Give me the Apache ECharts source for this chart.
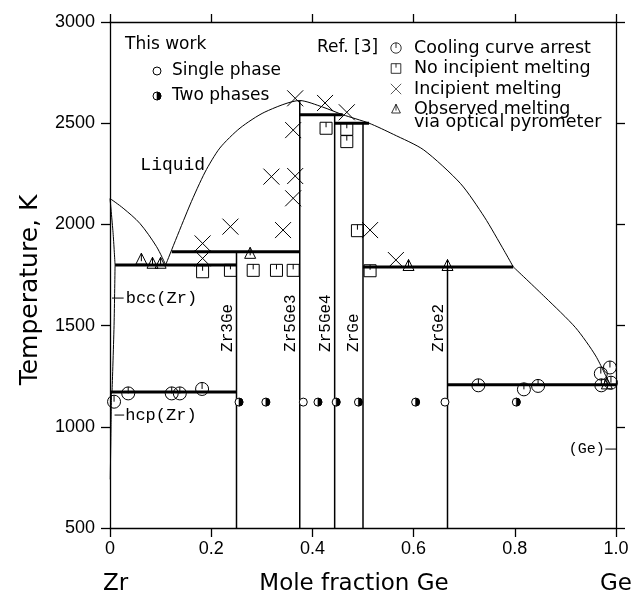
<!DOCTYPE html>
<html>
<head>
<meta charset="utf-8">
<script src="https://cdn.jsdelivr.net/npm/echarts@6/dist/echarts.min.js"></script>
<style>
  html, body { margin: 0; padding: 0; background: #fff; }
  #chart { width: 635px; height: 595px; }
</style>
</head>
<body>
<div id="chart"></div>
<script>
// Zr–Ge phase diagram: temperature (K) against mole fraction of Ge

// ---- axis ticks ----
const xTicks = [0, 0.2, 0.4, 0.6, 0.8, 1.0];
const xTickLabels = ['0', '0.2', '0.4', '0.6', '0.8', '1.0'];
const yTicks = [500, 1000, 1500, 2000, 2500, 3000];

// ---- liquidus branches [x(Ge), T/K] ----
const liquidusZr = [[0, 2128], [0.026, 2080], [0.059, 2005], [0.092, 1890], [0.11, 1800]];
const liquidusMid = [[0.11, 1800], [0.158, 2096], [0.188, 2259], [0.217, 2377], [0.257, 2476],
  [0.306, 2555], [0.375, 2612], [0.42, 2580], [0.46, 2542], [0.512, 2500],
  [0.56, 2445], [0.62, 2368], [0.693, 2201], [0.74, 2036], [0.779, 1870], [0.797, 1790]];
const liquidusGe = [[0.797, 1790], [0.86, 1640], [0.92, 1490], [0.96, 1350], [0.988, 1208]];

// ---- Zr-rich solid solution boundaries ----
const solidusZr = [[0, 2128], [0.006, 1960], [0.01, 1800]];
const solvusBcc = [[0.01, 1800], [0.008, 1500], [0.004, 1172]];
const solvusHcp = [[0.003, 1172], [0.002, 1000], [0.0005, 740]];

// ---- intermetallic compounds ----
const compoundNames = ['Zr3Ge', 'Zr5Ge3', 'Zr5Ge4', 'ZrGe', 'ZrGe2'];
const compoundX = [0.25, 0.375, 0.444, 0.5, 0.667];
const compoundTop = [1865, 2612, 2542, 2500, 1790];

// ---- invariant reaction lines [x start, x end, T] ----
const invariantLines = [
  [0.0, 0.25, 1172],
  [0.01, 0.25, 1800],
  [0.122, 0.375, 1865],
  [0.375, 0.46, 2542],
  [0.444, 0.512, 2500],
  [0.5, 0.797, 1790],
  [0.667, 1.0, 1208]
];

// ---- this work ----
const singlePhase = [[0.382, 1122], [0.662, 1122]];
const twoPhases = [[0.255, 1122], [0.308, 1122], [0.411, 1122], [0.447, 1122], [0.491, 1122],
  [0.604, 1122], [0.803, 1122]];

// ---- Ref. [3] ----
const coolingArrest = [[0.008, 1124], [0.036, 1165], [0.122, 1165], [0.138, 1165], [0.182, 1187],
  [0.728, 1205], [0.818, 1185], [0.846, 1202], [0.970, 1263], [0.988, 1293], [0.971, 1205], [0.99, 1218]];
const noMelting = [[0.183, 1766], [0.238, 1773], [0.283, 1773], [0.329, 1773], [0.362, 1773],
  [0.427, 2475], [0.468, 2470], [0.468, 2409], [0.489, 1969], [0.514, 1771]];
const incipientMelting = [[0.366, 2623], [0.362, 2466], [0.425, 2600], [0.468, 2554], [0.319, 2236],
  [0.366, 2239], [0.362, 2129], [0.238, 1989], [0.342, 1972], [0.183, 1906], [0.183, 1832],
  [0.514, 1972], [0.565, 1824]];
const pyrometerMelting = [[0.062, 1828], [0.084, 1808], [0.1, 1808], [0.277, 1857], [0.59, 1797],
  [0.667, 1797], [0.982, 1212]];

// ---- phase region labels ----
const regionLabels = [['Liquid', 0.06, 2293]];
// [text, label x, T, leader x start, leader x end]
const bccLabel = ['bcc(Zr)', 0.031, 1636, 0.004, 0.027];
const hcpLabel = ['hcp(Zr)', 0.03, 1058, 0.009, 0.028];
const geLabel = ['(Ge)', 0.978, 890, 0.979, 1.0];

const BLACK = '#000';
const SANS = '"DejaVu Sans", sans-serif';
const ARIAL = '"Liberation Sans", Arial, sans-serif';
const MONO = '"Liberation Mono", monospace';

function lineSeries(data, width, smooth) {
  return {
    type: 'line', data: data, symbol: 'none', showSymbol: false, smooth: smooth || false,
    lineStyle: { color: BLACK, width: width }, z: 2, silent: true, animation: false
  };
}

// marker shapes drawn around the data point (pixel offsets)
const shapes = {
  cooling: () => [
    { type: 'circle', shape: { cx: 0, cy: 0, r: 6.5 }, style: { stroke: BLACK, fill: 'none', lineWidth: 1 } },
    { type: 'line', shape: { x1: 0, y1: -6.5, x2: 0, y2: 0 }, style: { stroke: BLACK, lineWidth: 1 } }
  ],
  square: () => [
    { type: 'rect', shape: { x: -6, y: -6, width: 12, height: 12 }, style: { stroke: BLACK, fill: 'none', lineWidth: 1 } },
    { type: 'line', shape: { x1: 0, y1: -6, x2: 0, y2: -1 }, style: { stroke: BLACK, lineWidth: 1 } }
  ],
  cross: () => [
    { type: 'line', shape: { x1: -8, y1: -8, x2: 8, y2: 8 }, style: { stroke: BLACK, lineWidth: 1 } },
    { type: 'line', shape: { x1: 8, y1: -8, x2: -8, y2: 8 }, style: { stroke: BLACK, lineWidth: 1 } }
  ],
  triangle: () => [
    { type: 'polygon', shape: { points: [[0, -6], [5.5, 5], [-5.5, 5]] }, style: { stroke: BLACK, fill: 'none', lineWidth: 1 } },
    { type: 'line', shape: { x1: 0, y1: -6, x2: 0, y2: 2 }, style: { stroke: BLACK, lineWidth: 1 } }
  ],
  single: () => [
    { type: 'circle', shape: { cx: 0, cy: 0, r: 4 }, style: { stroke: BLACK, fill: '#fff', lineWidth: 1 } }
  ],
  half: () => [
    { type: 'circle', shape: { cx: 0, cy: 0, r: 4 }, style: { stroke: BLACK, fill: '#fff', lineWidth: 1 } },
    { type: 'sector', shape: { cx: 0, cy: 0, r0: 0, r: 4, startAngle: -Math.PI / 2, endAngle: Math.PI / 2, clockwise: true },
      style: { fill: BLACK, stroke: BLACK, lineWidth: 0.6 } }
  ]
};

function markerSeries(name, data, kind) {
  return {
    type: 'custom', name: name, coordinateSystem: 'cartesian2d', data: data,
    encode: { x: 0, y: 1 }, z: 5, silent: true, animation: false,
    renderItem: function (params, api) {
      const p = api.coord([api.value(0), api.value(1)]);
      return { type: 'group', x: p[0], y: p[1], children: shapes[kind]() };
    }
  };
}

const series = [];
series.push(lineSeries(liquidusZr, 1, 0.3));
series.push(lineSeries(liquidusMid, 1, 0.25));
series.push(lineSeries(liquidusGe, 1, 0.25));
series.push(lineSeries(solidusZr, 1, 0.3));
series.push(lineSeries(solvusBcc, 1, 0.3));
series.push(lineSeries(solvusHcp, 1, 0.3));
compoundX.forEach((x, i) => series.push(lineSeries([[x, 500], [x, compoundTop[i]]], 1.5)));
invariantLines.forEach(l => series.push(lineSeries([[l[0], l[2]], [l[1], l[2]]], 3)));
[bccLabel, hcpLabel, geLabel].forEach(l => series.push(lineSeries([[l[3], l[2]], [l[4], l[2]]], 1)));

series.push(markerSeries('Cooling curve arrest', coolingArrest, 'cooling'));
series.push(markerSeries('No incipient melting', noMelting, 'square'));
series.push(markerSeries('Incipient melting', incipientMelting, 'cross'));
series.push(markerSeries('Observed melting via optical pyrometer', pyrometerMelting, 'triangle'));
series.push(markerSeries('Single phase', singlePhase, 'single'));
series.push(markerSeries('Two phases', twoPhases, 'half'));

const axisLineStyle = { color: BLACK, width: 1.3 };
function xLabel(v) {
  const i = xTicks.findIndex(t => Math.abs(t - v) < 1e-9);
  return i >= 0 ? xTickLabels[i] : '';
}

const option = {
  animation: false,
  backgroundColor: '#fff',
  grid: { left: 110, top: 22, right: 19, bottom: 67 },
  xAxis: [
    {
      type: 'value', min: xTicks[0], max: xTicks[xTicks.length - 1], interval: 0.2, position: 'bottom',
      axisLine: { onZero: false, lineStyle: axisLineStyle },
      axisTick: { inside: false, length: 9, lineStyle: axisLineStyle },
      axisLabel: { margin: 12, fontFamily: ARIAL, fontSize: 18, color: BLACK, formatter: xLabel, showMinLabel: true, showMaxLabel: true },
      splitLine: { show: false }
    },
    {
      type: 'value', min: xTicks[0], max: xTicks[xTicks.length - 1], interval: 0.2, position: 'top',
      axisLine: { onZero: false, lineStyle: axisLineStyle },
      axisTick: { inside: false, length: 8, lineStyle: axisLineStyle },
      axisLabel: { show: false }, splitLine: { show: false }
    }
  ],
  yAxis: [
    {
      type: 'value', min: yTicks[0], max: yTicks[yTicks.length - 1], interval: 500, position: 'left',
      axisLine: { onZero: false, lineStyle: axisLineStyle },
      axisTick: { inside: false, length: 9, lineStyle: axisLineStyle },
      axisLabel: { margin: 15, fontFamily: ARIAL, fontSize: 18, color: BLACK, formatter: v => String(v), showMinLabel: true, showMaxLabel: true },
      splitLine: { show: false }
    },
    {
      type: 'value', min: yTicks[0], max: yTicks[yTicks.length - 1], interval: 500, position: 'right',
      axisLine: { onZero: false, lineStyle: axisLineStyle },
      axisTick: { inside: false, length: 9, lineStyle: axisLineStyle },
      axisLabel: { show: false }, splitLine: { show: false }
    }
  ],
  series: series
};

const chart = echarts.init(document.getElementById('chart'), null, { renderer: 'canvas' });
chart.setOption(option);

const toPx = (x, t) => chart.convertToPixel({ xAxisIndex: 0, yAxisIndex: 0 }, [x, t]);

function text(str, x, y, font, size, align, extra) {
  return Object.assign({
    type: 'text', x: x, y: y, silent: true, z: 10,
    style: { text: str, fill: BLACK, font: size + 'px ' + font, textAlign: align || 'left', textVerticalAlign: 'middle' }
  }, extra || {});
}

const graphics = [];

// axis titles
graphics.push(text('Temperature, K', 30, 290, SANS, 25, 'center', { rotation: Math.PI / 2 }));
graphics.push(text('Zr', 103, 584, SANS, 23, 'left'));
graphics.push(text('Mole fraction Ge', 354, 584, SANS, 23, 'center'));
graphics.push(text('Ge', 632, 584, SANS, 23, 'right'));

// compound labels, written upward beside each compound line
compoundNames.forEach((name, i) => {
  const p = toPx(compoundX[i], 1370);
  graphics.push(text(name, p[0] - 9, p[1], MONO, 16, 'left', { rotation: Math.PI / 2 }));
});

// phase region labels
regionLabels.forEach(l => {
  const p = toPx(l[1], l[2]);
  graphics.push(text(l[0], p[0], p[1], MONO, 18, 'left'));
});
[bccLabel, hcpLabel].forEach(l => {
  const p = toPx(l[1], l[2]);
  graphics.push(text(l[0], p[0], p[1], MONO, 17, 'left'));
});
{
  const p = toPx(geLabel[1], geLabel[2]);
  graphics.push(text(geLabel[0], p[0], p[1], MONO, 15, 'right'));
}

// key: this work
graphics.push(text('This work', 125, 45, SANS, 17, 'left'));
graphics.push({ type: 'group', x: 157, y: 71, children: shapes.single() });
graphics.push(text('Single phase', 172, 71, SANS, 17, 'left'));
graphics.push({ type: 'group', x: 157, y: 96, children: shapes.half() });
graphics.push(text('Two phases', 172, 96, SANS, 17, 'left'));

// key: Ref. [3]
graphics.push(text('Ref. [3]', 317, 48, SANS, 17, 'left'));
const keyRows = [
  ['Cooling curve arrest', 'cooling', 48],
  ['No incipient melting', 'square', 68.5],
  ['Incipient melting', 'cross', 89],
  ['Observed melting', 'triangle', 109]
];
const keyScale = { cooling: 0.8, square: 0.8, cross: 0.65, triangle: 0.8 };
keyRows.forEach(r => {
  graphics.push({ type: 'group', x: 396, y: r[2], scaleX: keyScale[r[1]], scaleY: keyScale[r[1]], children: shapes[r[1]]() });
  graphics.push(text(r[0], 414, r[2], SANS, 17.5, 'left'));
});
graphics.push(text('via optical pyrometer', 414, 122, SANS, 17.5, 'left'));

chart.setOption({ graphic: graphics });
</script>
</body>
</html>
